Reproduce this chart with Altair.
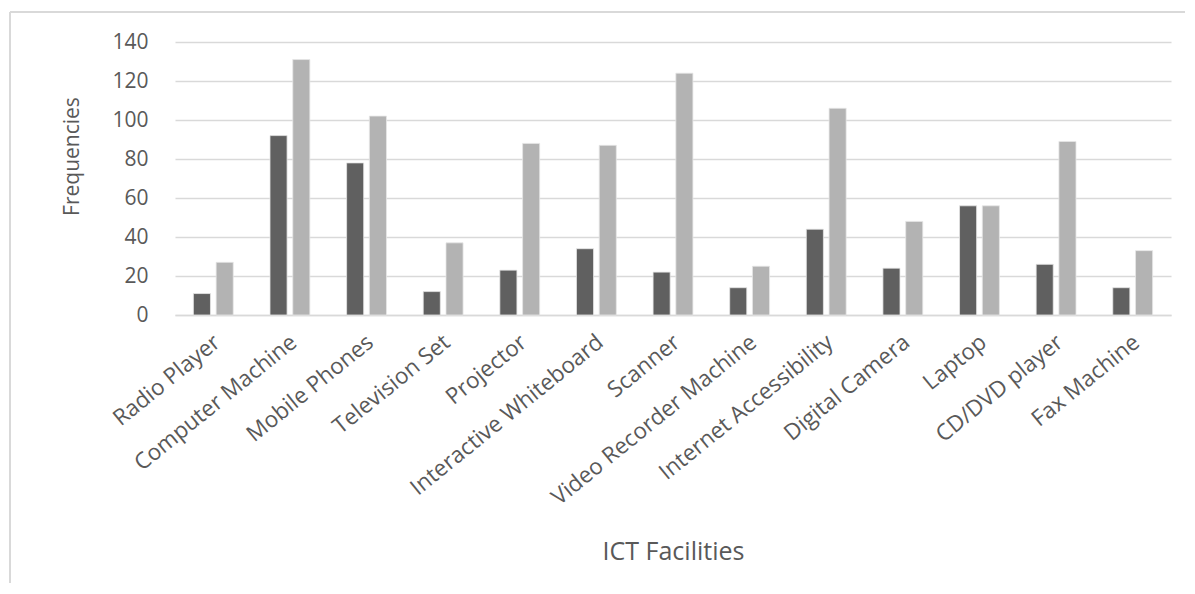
import altair as alt
import pandas as pd

categories = ["Radio Player", "Computer Machine", "Mobile Phones", "Television Set",
              "Projector", "Interactive Whiteboard", "Scanner", "Video Recorder Machine",
              "Internet Accessibility", "Digital Camera", "Laptop", "CD/DVD player", "Fax Machine"]
series_a = [11, 92, 78, 12, 23, 34, 22, 14, 44, 24, 56, 26, 14]
series_b = [27, 131, 102, 37, 88, 87, 124, 25, 106, 48, 56, 89, 33]
series_names = ["Series 1", "Series 2"]
y_ticks = [0, 20, 40, 60, 80, 100, 120, 140]

rows = []
for c, a, b in zip(categories, series_a, series_b):
    rows.append({"facility": c, "series": series_names[0], "value": a})
    rows.append({"facility": c, "series": series_names[1], "value": b})
df = pd.DataFrame(rows)

FONT = "Open Sans"
TXT = "#595959"

bars = alt.Chart(df).mark_bar(stroke="#e6e6e6", strokeWidth=0.8).encode(
    x=alt.X("facility:N", sort=categories,
            scale=alt.Scale(paddingInner=0.48, paddingOuter=0.24),
            axis=alt.Axis(title="ICT Facilities", labelAngle=-39, labelAlign="right",
                          labelBaseline="middle", labelPadding=24, labelOffset=4,
                          ticks=False, labelLimit=500,
                          domainColor="#d9d9d9", domainWidth=1.5,
                          labelFont=FONT, labelFontSize=22.5, labelColor=TXT,
                          titleFont=FONT, titleFontSize=25, titleColor=TXT,
                          titleFontWeight="normal", titleY=236, titleBaseline="middle")),
    xOffset=alt.XOffset("series:N", sort=series_names,
                        scale=alt.Scale(paddingInner=0.25, paddingOuter=0)),
    y=alt.Y("value:Q", scale=alt.Scale(domain=[0, 140], nice=False),
            axis=alt.Axis(title="Frequencies", values=y_ticks, ticks=False, domain=False,
                          gridColor="#d9d9d9", gridWidth=1.3, labelPadding=27,
                          labelFont=FONT, labelFontSize=21, labelColor=TXT,
                          titleFont=FONT, titleFontSize=21, titleColor=TXT,
                          titleFontWeight="normal", titleX=-103, titleY=114,
                          titleAngle=-90, titleAlign="center", titleBaseline="middle")),
    color=alt.Color("series:N", sort=series_names,
                    scale=alt.Scale(domain=series_names, range=["#606060", "#b3b3b3"]),
                    legend=None),
)

frame = alt.Data(values=[{"k": 1}])
top_border = alt.Chart(frame).mark_rule(color="#d9d9d9", strokeWidth=2, clip=False).encode(
    x=alt.value(-165), x2=alt.value(1030), y=alt.value(-30))
left_border = alt.Chart(frame).mark_rule(color="#d9d9d9", strokeWidth=2, clip=False).encode(
    x=alt.value(-165), y=alt.value(-30), y2=alt.value(560))

chart = alt.layer(bars, top_border, left_border).properties(
    width=996, height=273,
    autosize=alt.AutoSizeParams(type="none"),
    padding={"left": 167, "top": 34, "right": 14, "bottom": 268},
    background="white",
).configure_view(stroke=None)

chart.save("out.html", embed_options={"renderer": "svg", "actions": False})
